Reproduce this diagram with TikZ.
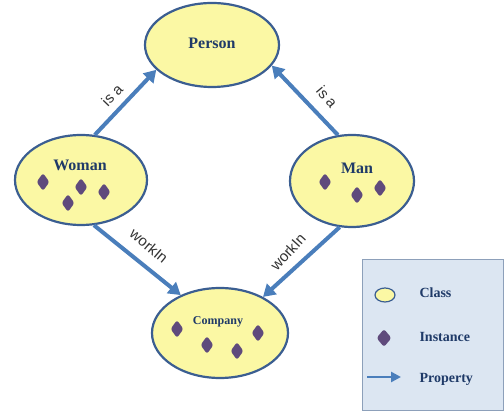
\documentclass[tikz,border=0pt]{standalone}
\usepackage{fontspec}
\setmainfont{Liberation Serif}
\newfontfamily\labelfont{Liberation Sans}
\usetikzlibrary{shapes.geometric, arrows.meta}
\definecolor{class-fill}{HTML}{FBF8A4}
\definecolor{class-border}{HTML}{3B5E91}
\definecolor{class-text}{HTML}{1F3A68}
\definecolor{inst-purple}{HTML}{5F4A7C}
\definecolor{prop-blue}{HTML}{4A7EBB}
\definecolor{legend-bg}{HTML}{DCE6F2}
\definecolor{legend-border}{HTML}{8DA0BA}
\definecolor{label-gray}{HTML}{333333}

\begin{document}
\begin{tikzpicture}[x=1pt, y=1pt,
        classnode/.style={ellipse, draw=class-border, fill=class-fill, line width=2.2pt, inner sep=0pt},
        classname/.style={font=\fontsize{16}{18}\selectfont\bfseries, text=class-text},
        inst/.style={diamond, fill=inst-purple, rounded corners=2.5pt, minimum width=13pt, minimum height=18pt, inner sep=0pt},
        prop/.style={-{Triangle[length=12pt,width=14pt]}, line width=4pt, draw=prop-blue},
        proplabel/.style={font=\labelfont\fontsize{15}{17}\selectfont, text=label-gray},
        keytext/.style={anchor=west, font=\fontsize{14}{16}\selectfont\bfseries, text=class-text}]
      \useasboundingbox (0,0) rectangle (504,412);
      \node[classnode, minimum width=134pt, minimum height=84pt] (Person) at (212,367) {};
      \node[classnode, minimum width=132pt, minimum height=90pt] (Woman) at (81,232) {};
      \node[classnode, minimum width=124pt, minimum height=92pt] (Man) at (352,231) {};
      \node[classnode, minimum width=136pt, minimum height=90pt] (Company) at (220,79) {};
      \node[classname] (PersonName) at (212,369) {Person};
      \node[classname] (WomanName) at (80,247) {Woman};
      \node[classname] (ManName) at (357,244) {Man};
      \node[classname, font=\fontsize{12}{14}\selectfont\bfseries] (CompanyName) at (218,90) {Company};
      \node[inst] (w1) at (43,230) {};
      \node[inst] (w2) at (81,225) {};
      \node[inst] (w3) at (104,220) {};
      \node[inst] (w4) at (68,209) {};
      \node[inst] (m1) at (325,230) {};
      \node[inst] (m2) at (357,217) {};
      \node[inst] (m3) at (380,224) {};
      \node[inst] (c1) at (177,83) {};
      \node[inst] (c2) at (207,67) {};
      \node[inst] (c3) at (237,61) {};
      \node[inst] (c4) at (258,79) {};
      \draw[prop] (Woman.73) -- (Person.204);
      \draw[prop] (Man.107) -- (Person.-19);
      \draw[prop] (Woman.-74) -- (Company.136);
      \draw[prop] (Man.-105) -- (Company.40);
      \node[proplabel, rotate=46] (isaW) at (112,317) {is a};
      \node[proplabel, rotate=-50] (isaM) at (327,315) {is a};
      \node[proplabel, rotate=-40] (workW) at (149,166) {workIn};
      \node[proplabel, rotate=48] (workM) at (288,160) {workIn};
      \node[draw=legend-border, fill=legend-bg, line width=1pt, minimum width=141pt, minimum height=151pt,
            inner sep=0pt] (legend) at (432.5,76.5) {};
      \node[classnode, line width=1.2pt, minimum width=20pt, minimum height=14pt] (keyClass) at (385,117) {};
      \node[inst, minimum width=15pt, minimum height=18pt] (keyInst) at (384,74) {};
      \coordinate (keyFrom) at (367,35);
      \coordinate (keyTo) at (401,35);
      \draw[prop, line width=2.5pt, -{Triangle[length=10pt,width=10pt]}] (keyFrom) -- (keyTo);
      \node[keytext] (keyClassText) at (416,119) {Class};
      \node[keytext] (keyInstText) at (416,75) {Instance};
      \node[keytext] (keyPropText) at (416,33) {Property};
    \end{tikzpicture}
\end{document}
